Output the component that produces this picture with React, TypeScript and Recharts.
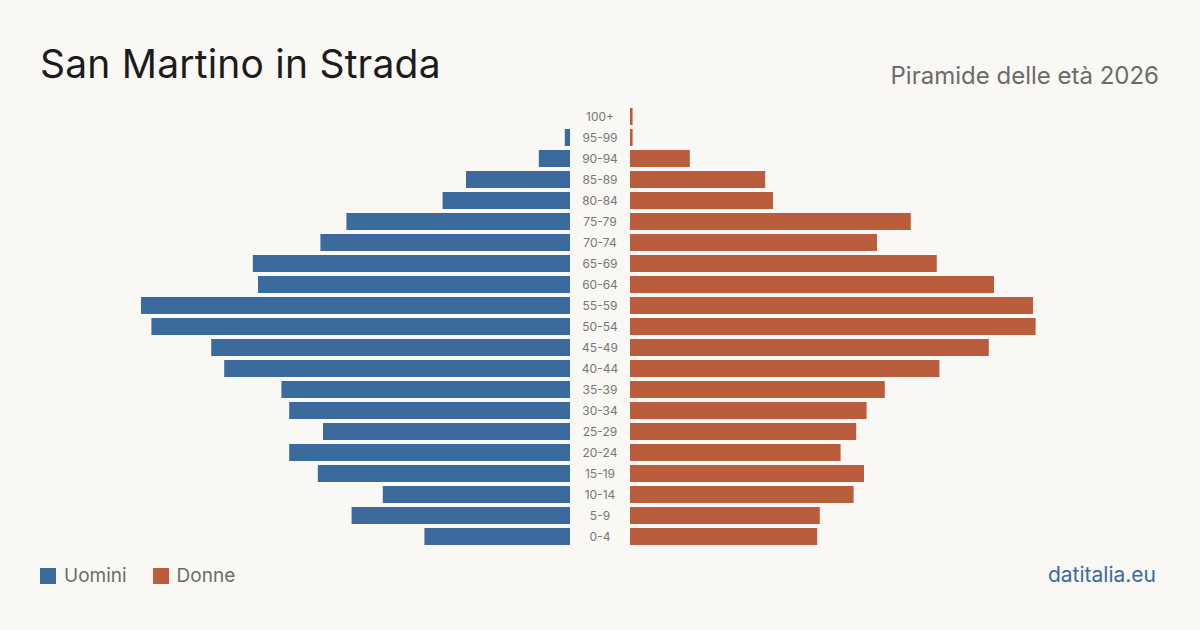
import React from 'react';
import { BarChart, Bar, XAxis, YAxis } from 'recharts';

// age classes, top to bottom
const ages = [
  '100+', '95-99', '90-94', '85-89', '80-84', '75-79', '70-74', '65-69', '60-64', '55-59',
  '50-54', '45-49', '40-44', '35-39', '30-34', '25-29', '20-24', '15-19', '10-14', '5-9', '0-4',
];
const uomini = [0, 2, 12, 40, 49, 86, 96, 122, 120, 165, 161, 138, 133, 111, 108, 95, 108, 97, 72, 84, 56];
const donne = [1, 1, 23, 52, 55, 108, 95, 118, 140, 155, 156, 138, 119, 98, 91, 87, 81, 90, 86, 73, 72];

const BLUE = '#3b6b9c';
const RED = '#b95d3c';
const BG = '#f9f8f4';
const FONT = 'Inter, "Noto Sans", sans-serif';

const MAX = 170;
const PLOT_W = 442;
const PLOT_TOP = 106;
const PLOT_H = 441;

const data = ages.map((age, i) => ({ age, uomini: uomini[i], donne: donne[i] }));

const AgeTick = (props: any) => {
  const { y, payload } = props;
  return (
    <text x={30} y={y} dy={4} textAnchor="middle" fontSize={12} fill="#777" fontFamily={FONT}>
      {payload.value}
    </text>
  );
};

const App: React.FC = () => {
  return (
    <div style={{ position: 'absolute', left: 0, top: 0, width: 1200, height: 630, background: BG, fontFamily: FONT, overflow: 'hidden' }}>
      <div style={{ position: 'absolute', left: 40, top: 40, fontSize: 39, color: '#1c1c1c', letterSpacing: 0.2 }}>
        San Martino in Strada
      </div>
      <div style={{ position: 'absolute', right: 41, top: 61, fontSize: 24, color: '#6b6b6b' }}>
        Piramide delle età 2026
      </div>

      {/* men, growing leftwards */}
      <div style={{ position: 'absolute', left: 570 - PLOT_W, top: PLOT_TOP }}>
        <BarChart width={PLOT_W} height={PLOT_H} data={data} layout="vertical" margin={{ top: 0, right: 0, bottom: 0, left: 0 }}>
          <XAxis type="number" domain={[0, MAX]} reversed hide />
          <YAxis type="category" dataKey="age" hide />
          <Bar dataKey="uomini" fill={BLUE} barSize={17} isAnimationActive={false} />
        </BarChart>
      </div>

      {/* women + age labels */}
      <div style={{ position: 'absolute', left: 570, top: PLOT_TOP }}>
        <BarChart width={60 + PLOT_W} height={PLOT_H} data={data} layout="vertical" margin={{ top: 0, right: 0, bottom: 0, left: 0 }}>
          <XAxis type="number" domain={[0, MAX]} hide />
          <YAxis type="category" dataKey="age" width={60} axisLine={false} tickLine={false} tick={AgeTick} interval={0} />
          <Bar dataKey="donne" fill={RED} barSize={17} isAnimationActive={false} />
        </BarChart>
      </div>

      {/* legend */}
      <div style={{ position: 'absolute', left: 40, top: 564, display: 'flex', alignItems: 'center', fontSize: 19, color: '#6b6b6b' }}>
        <span style={{ width: 16, height: 16, background: BLUE, display: 'inline-block', marginRight: 8 }} />
        <span style={{ marginRight: 26 }}>Uomini</span>
        <span style={{ width: 16, height: 16, background: RED, display: 'inline-block', marginRight: 8 }} />
        <span>Donne</span>
      </div>

      <div style={{ position: 'absolute', right: 44, top: 562, fontSize: 21, color: BLUE }}>
        datitalia.eu
      </div>
    </div>
  );
};

export default App;
